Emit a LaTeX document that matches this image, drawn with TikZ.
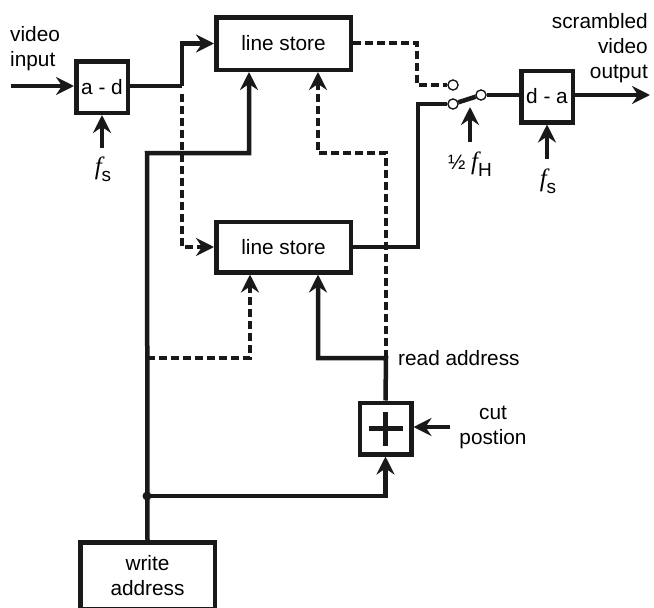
\documentclass[tikz,border=0pt]{standalone}
\usepackage{fontspec}
\setmainfont{Liberation Sans}
\newfontfamily\freqfont{Liberation Serif}
\usetikzlibrary{arrows.meta}
\newcommand{\freq}[1]{{\freqfont\itshape\fontsize{25}{25}\selectfont f}\raisebox{-7pt}{\fontsize{19}{19}\selectfont #1}}
\tikzset{
  blockbox/.style={draw=black!90, line width=4.5pt, fill=white, align=center, inner sep=0pt},
  wire/.style={line width=4.5pt, draw=black!90},
  wirearrow/.style={wire, -{Stealth[length=18pt, width=18pt, inset=6pt]}},
  dashwire/.style={wire, dash pattern=on 8pt off 4pt},
  dasharrow/.style={dashwire, -{Stealth[length=18pt, width=18pt, inset=6pt]}},
  contact/.style={circle, draw=black!90, line width=1.2pt, fill=white, minimum size=10pt, inner sep=0pt},
  label/.style={align=center, inner sep=0pt}
}
\begin{document}
\begin{tikzpicture}[x=1pt, y=-1pt, font=\fontsize{20.8}{25}\selectfont]
    \useasboundingbox (0,0) rectangle (654,608);
    % blocks
    \node[blockbox, minimum width=51.5pt, minimum height=51.5pt] (AD) at (102,87) {a - d};
    \node[blockbox, minimum width=51.5pt, minimum height=51.5pt] (DA) at (547,96.5) {d - a};
    \node[blockbox, minimum width=134.5pt, minimum height=52.5pt] (LS1) at (283.5,43.5) {line store};
    \node[blockbox, minimum width=134.5pt, minimum height=50.5pt] (LS2) at (283.5,247) {line store};
    \node[blockbox, minimum width=51.5pt, minimum height=51.5pt] (ADD) at (385.5,428.5) {};
    \node[blockbox, minimum width=134.5pt, minimum height=67pt] (WA) at (147.5,576) {write\\address};
    % switch
    \node[contact] (SWa) at (453,85) {};
    \node[contact] (SWb) at (453,104) {};
    \node[contact] (SWc) at (481,95) {};
    % free ends and junctions
    \coordinate (VIN) at (11,86);
    \coordinate (VOUT) at (650,95);
    \coordinate (FS1) at (102,148);
    \coordinate (FS2) at (547,159);
    \coordinate (FH) at (470,142);
    \coordinate (CUT) at (450,427);
    \coordinate (SPLIT) at (182,86);
    \coordinate (RD) at (386,358);
    \coordinate (WR) at (147,358);
    \coordinate (JW) at (147,496);
    \coordinate (SW1) at (417,85);
    \coordinate (SW2) at (418,104);
    % dashed paths
    \draw[dasharrow] (SPLIT) ++(0,8) |- (LS2.west);
    \draw[dashwire] (LS1.east |- 0,43) -| (SW1) -- (SWa);
    \draw[dasharrow] (WR) -| (LS2.south -| 250,0);
    \draw[dasharrow] (RD) |- (318,153) -- (LS1.south -| 318,0);
    % solid paths
    \draw[wirearrow] (VIN) -- (AD.west |- VIN);
    \draw[wirearrow] (FS1) -- (AD.south);
    \draw[wire] (AD.east |- SPLIT) -- (SPLIT);
    \draw[wirearrow] (SPLIT) |- (LS1.west);
    \draw[wirearrow] (WA.north) -- (147,153) -| (LS1.south -| 249,0);
    \draw[wire] (LS2.east) -| (SW2) -- (SWb);
    \draw[wirearrow] (FH) -- (470,107);
    \draw[wire] (SWb) -- (SWc);
    \draw[wire] (SWc) -- (DA.west |- SWc);
    \draw[wirearrow] (DA.east |- VOUT) -- (VOUT);
    \draw[wirearrow] (FS2) -- (DA.south);
    \draw[wirearrow] (ADD.north) -- (RD) -| (LS2.south -| 318,0);
    \draw[wirearrow] (JW) -| (ADD.south);
    \draw[wirearrow] (CUT) -- (ADD.east |- CUT);
    \fill[black!90] (JW) circle (4.5pt);
    % plus sign
    \draw[wire] ([xshift=-17pt]ADD.center) -- ([xshift=17pt]ADD.center);
    \draw[wire] ([yshift=-17pt]ADD.center) -- ([yshift=17pt]ADD.center);
    % redraw contacts above the wires
    \node[contact] at (SWa) {};
    \node[contact] at (SWb) {};
    \node[contact] at (SWc) {};
    % labels
    \node[label, align=left, anchor=west] (LBin) at (10,48.5) {video\\input};
    \node[label, align=right, anchor=east] (LBout) at (648,48.5) {scrambled\\video\\output};
    \node[label] (LBfs1) at (103,169) {\freq{s}};
    \node[label] (LBfs2) at (548,181) {\freq{s}};
    \node[label] (LBfh) at (470,164) {½ \freq{H}};
    \node[label, anchor=west] (LBrd) at (398,358) {read address};
    \node[label] (LBcut) at (493,427) {cut\\postion};
\end{tikzpicture}
\end{document}
